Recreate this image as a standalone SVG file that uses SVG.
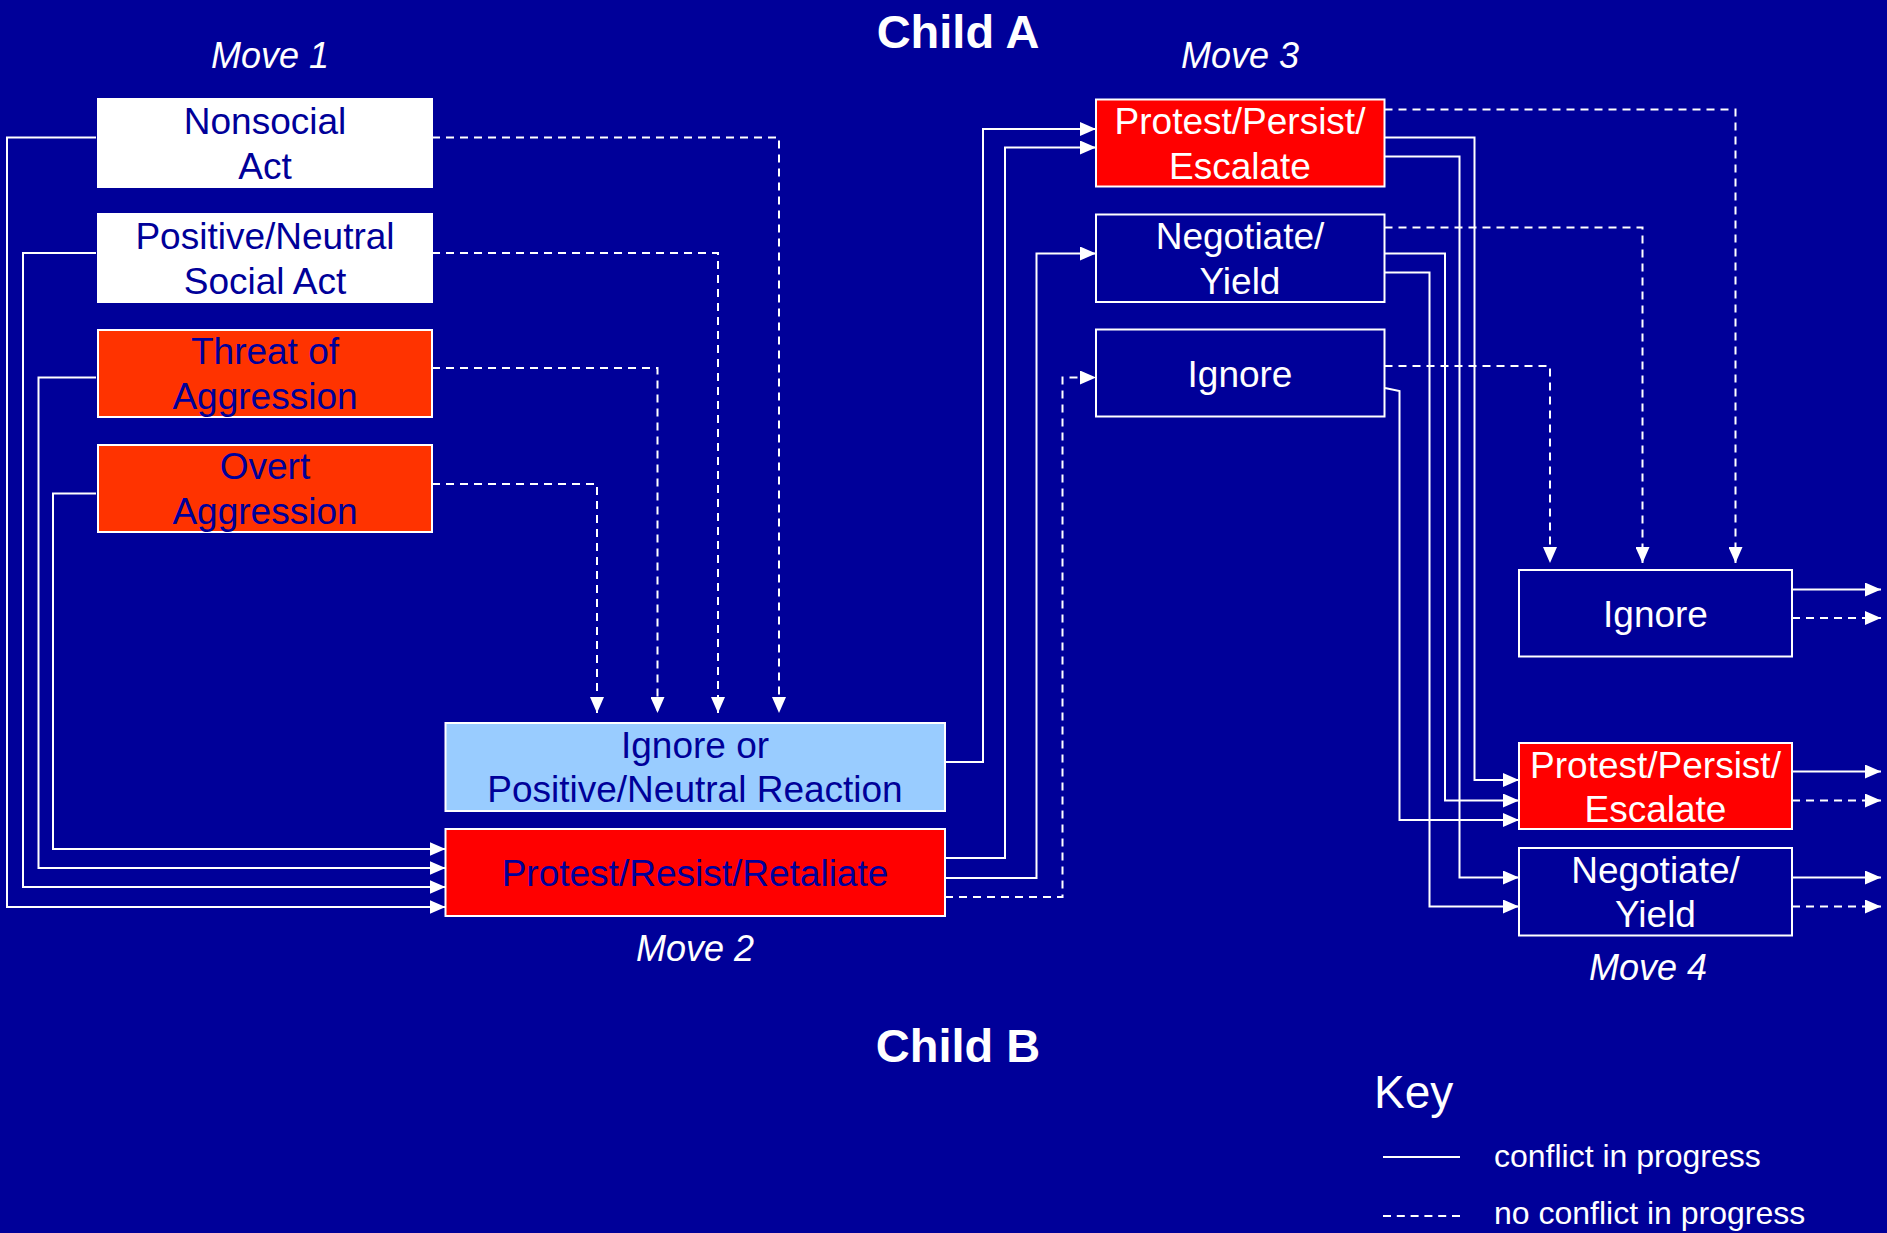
<svg xmlns="http://www.w3.org/2000/svg" width="1887" height="1233" viewBox="0 0 1887 1233">
<defs>
<marker id="ah" markerUnits="userSpaceOnUse" markerWidth="16" markerHeight="14" refX="16" refY="7" orient="auto" viewBox="0 0 16 14">
<path d="M0,0 L16,7 L0,14 z" fill="#ffffff"/>
</marker>
<style>
text{font-family:"Liberation Sans",Arial,sans-serif;}
.box{stroke:#ffffff;stroke-width:2;}
.bt{font-size:37px;text-anchor:middle;}
.nv{fill:#000099;}
.wh{fill:#ffffff;}
.mv{font-size:36px;font-style:italic;fill:#ffffff;text-anchor:middle;}
.ttl{font-size:47px;font-weight:bold;fill:#ffffff;text-anchor:middle;}
.s{fill:none;stroke:#ffffff;stroke-width:2;}
.d{fill:none;stroke:#ffffff;stroke-width:2;stroke-dasharray:8 6;}
.a{marker-end:url(#ah);}
</style>
</defs>
<rect x="0" y="0" width="1887" height="1233" fill="#000099"/>

<g id="titles">
<text class="ttl" x="958" y="48">Child A</text>
<text class="ttl" x="958" y="1062">Child B</text>
<text class="mv" x="270" y="68">Move 1</text>
<text class="mv" x="695" y="961">Move 2</text>
<text class="mv" x="1240" y="68">Move 3</text>
<text class="mv" x="1648" y="980">Move 4</text>
</g>

<g id="connectors">
<!-- Move 1 solid to Move 2 Protest -->
<path class="s a" d="M96,137.5 H7 V907 H445.5"/>
<path class="s a" d="M96,253 H23 V887 H445.5"/>
<path class="s a" d="M96,377.5 H38.5 V868 H445.5"/>
<path class="s a" d="M96,493.5 H53 V849 H445.5"/>
<!-- Move 1 dashed to Move 2 Ignore -->
<path class="d a" d="M432,137.5 H779 V713"/>
<path class="d a" d="M432,253 H718 V713"/>
<path class="d a" d="M432,368 H657.5 V713"/>
<path class="d a" d="M432,484 H597 V713"/>
<!-- Move 2 to Move 3 -->
<path class="s a" d="M945,762 H983 V129 H1096"/>
<path class="s a" d="M945,858 H1005 V147.5 H1096"/>
<path class="s a" d="M945,878 H1036.5 V253.5 H1096"/>
<path class="d a" d="M945,897 H1062.5 V377.5 H1096"/>
<!-- Move 3 to Move 4 -->
<path class="d a" d="M1384.5,109.5 H1735.5 V563"/>
<path class="s a" d="M1384.5,137.5 H1474.5 V780 H1519"/>
<path class="s a" d="M1384.5,156.5 H1459.5 V877.5 H1519"/>
<path class="d a" d="M1384.5,227.5 H1642.5 V563"/>
<path class="s a" d="M1384.5,253.5 H1445 V800.5 H1519"/>
<path class="s a" d="M1384.5,272.5 H1429.5 V906.5 H1519"/>
<path class="d a" d="M1384.5,366 H1550 V563"/>
<path class="s a" d="M1385,388 L1399.5,391 V820 H1519"/>
<!-- Move 4 outgoing -->
<path class="s a" d="M1792,589.5 H1881"/>
<path class="d a" d="M1792,618 H1881"/>
<path class="s a" d="M1792,771.5 H1881"/>
<path class="d a" d="M1792,800.5 H1881"/>
<path class="s a" d="M1792,877.5 H1881"/>
<path class="d a" d="M1792,906.5 H1881"/>
</g>

<g id="n_nonsocial">
<rect class="box" x="98" y="99" width="334" height="88" fill="#ffffff"/>
<text class="bt nv" x="265" y="134">Nonsocial</text>
<text class="bt nv" x="265" y="179">Act</text>
</g>
<g id="n_positive">
<rect class="box" x="98" y="214" width="334" height="88" fill="#ffffff"/>
<text class="bt nv" x="265" y="249">Positive/Neutral</text>
<text class="bt nv" x="265" y="294">Social Act</text>
</g>
<g id="n_threat">
<rect class="box" x="98" y="330" width="334" height="87" fill="#ff3300"/>
<text class="bt nv" x="265" y="364">Threat of</text>
<text class="bt nv" x="265" y="409">Aggression</text>
</g>
<g id="n_overt">
<rect class="box" x="98" y="445" width="334" height="87" fill="#ff3300"/>
<text class="bt nv" x="265" y="479">Overt</text>
<text class="bt nv" x="265" y="524">Aggression</text>
</g>

<g id="n_m2_ignore">
<rect class="box" x="445.5" y="723" width="499.5" height="88" fill="#99ccff"/>
<text class="bt nv" x="695" y="758">Ignore or</text>
<text class="bt nv" x="695" y="802">Positive/Neutral Reaction</text>
</g>
<g id="n_m2_protest">
<rect class="box" x="445.5" y="829" width="499.5" height="87" fill="#ff0000"/>
<text class="bt nv" x="695" y="886">Protest/Resist/Retaliate</text>
</g>

<g id="n_m3_protest">
<rect class="box" x="1096" y="99.5" width="288.5" height="87" fill="#ff0000"/>
<text class="bt wh" x="1240" y="134">Protest/Persist/</text>
<text class="bt wh" x="1240" y="179">Escalate</text>
</g>
<g id="n_m3_negotiate">
<rect class="box" x="1096" y="214.5" width="288.5" height="87.5" fill="#000099"/>
<text class="bt wh" x="1240" y="249">Negotiate/</text>
<text class="bt wh" x="1240" y="294">Yield</text>
</g>
<g id="n_m3_ignore">
<rect class="box" x="1096" y="329.5" width="288.5" height="87" fill="#000099"/>
<text class="bt wh" x="1240" y="387">Ignore</text>
</g>

<g id="n_m4_ignore">
<rect class="box" x="1519" y="570" width="273" height="86.5" fill="#000099"/>
<text class="bt wh" x="1655.5" y="626.5">Ignore</text>
</g>
<g id="n_m4_protest">
<rect class="box" x="1519" y="743" width="273" height="86" fill="#ff0000"/>
<text class="bt wh" x="1655.5" y="778">Protest/Persist/</text>
<text class="bt wh" x="1655.5" y="822">Escalate</text>
</g>
<g id="n_m4_negotiate">
<rect class="box" x="1519" y="848" width="273" height="87.5" fill="#000099"/>
<text class="bt wh" x="1655.5" y="883">Negotiate/</text>
<text class="bt wh" x="1655.5" y="927">Yield</text>
</g>

<g id="key">
<text x="1374" y="1108" font-size="46" fill="#ffffff">Key</text>
<line x1="1383" y1="1157" x2="1460" y2="1157" stroke="#ffffff" stroke-width="2"/>
<text x="1494" y="1167" font-size="32" fill="#ffffff">conflict in progress</text>
<line x1="1383" y1="1216" x2="1460" y2="1216" stroke="#ffffff" stroke-width="2" stroke-dasharray="8 5.8"/>
<text x="1494" y="1224" font-size="32" fill="#ffffff">no conflict in progress</text>
</g>
</svg>
